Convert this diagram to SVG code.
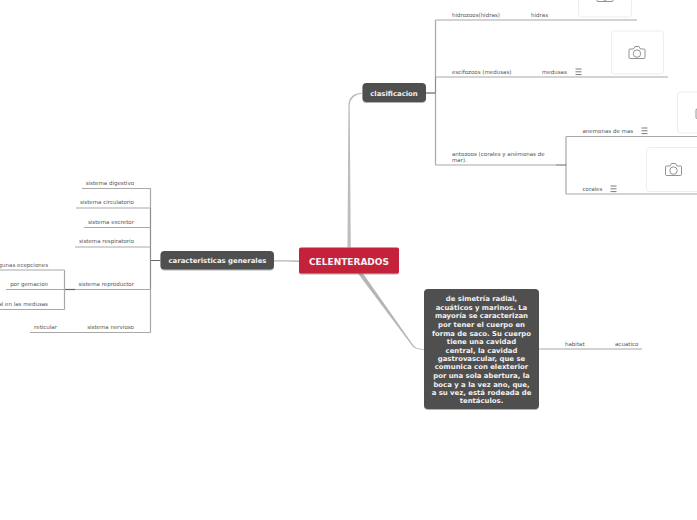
<svg xmlns="http://www.w3.org/2000/svg" width="697" height="520" viewBox="0 0 697 520">
<style>
text{font-family:"DejaVu Sans",Verdana,sans-serif}
.l{font-size:5.5px;fill:#555}
.e{text-anchor:end}
.t{font-size:6.9px;font-weight:bold;fill:#f2f2f2;text-anchor:middle}
.c{fill:none;stroke:#a8a8a8;stroke-width:1.2}
.g{fill:none;stroke:#8c8c8c;stroke-width:1.2}
.d{fill:none;stroke:#666;stroke-width:1.2}
.b{fill:#4f4f4f;filter:url(#s)}
.cb{fill:#fff;stroke:#eee;stroke-width:1}
.i{fill:none;stroke:#777;stroke-width:.8}
.m{stroke:#444;stroke-width:.7}
</style>
<defs>
<filter id="s" x="-10%" y="-10%" width="120%" height="130%"><feDropShadow dx="0" dy="1" stdDeviation=".7" flood-color="#000" flood-opacity=".3"/></filter>
<g id="cam" class="i"><path d="M-7 -4H-3.500L-2 -6.500H2L3.500 -4H7Q8 -4 8 -3V4.500Q8 5.500 7 5.500H-7Q-8 5.500 -8 4.500V-3Q-8 -4 -7 -4Z"/><circle cx="0" cy=".6" r="3.700"/></g>
<g id="menu" class="m"><path d="M0 0H6M0 2.800H6M0 5.600H6"/></g>
</defs>
<g id="connectors">
<path d="M347.500 247.500L348.400 105Q348.700 94 361 92.800L362.500 93.400Q350.400 95 349.700 105L350.800 247.500Z" fill="#bdbdbd"/>
<path d="M274 260.300H287L299 260.500V262L287 261.500H274Z" fill="#b5b5b5"/>
<path d="M358 273.500L363 273.500L413.500 345.500Q416 349 424 349V349.700Q415 349.800 412.500 346.300Z" fill="#b5b5b5"/>
<path class="c" d="M435.500 20V77M435.500 93V165"/>
<path class="d" d="M426 93H435.500"/>
<path class="g" d="M435.500 77V93"/>
<path class="c" d="M435.500 20H637M435.500 77H668M435.500 165H556M566 136.500V194M566 136.500H697M566 194H697"/>
<path class="d" d="M556 165H566M160.500 260.500H150.500"/>
<path class="g" d="M150.500 208V289.500"/>
<path class="c" d="M150.500 188V208M150.500 289.500V332.500M150.500 188.500H82M150.500 208H76M150.500 227.500H84M150.500 247H75M150.500 289.500H75M150.500 332.500H30"/>
<path class="d" d="M75 289.500H64.500"/>
<path class="c" d="M64.500 270V309.500M64.500 270H0M64.500 289.500H6M64.500 309.500H0M539 349H642"/>
</g>
<g id="celenterados"><rect x="299" y="247.500" width="100" height="26" rx="2" fill="#c4203a" filter="url(#s)"/><text x="349" y="264.500" font-size="9" font-weight="bold" fill="#f2f2f2" text-anchor="middle">CELENTERADOS</text></g>
<g id="clasificacion"><rect class="b" x="362.500" y="83" width="63.500" height="19" rx="4"/><text class="t" x="394" y="95.500">clasificacion</text></g>
<g id="caracteristicas"><rect class="b" x="160.500" y="251" width="113.500" height="18.500" rx="4"/><text class="t" x="217.500" y="263">caracteristicas generales</text></g>
<g id="descripcion"><rect class="b" x="424" y="289" width="115" height="120" rx="4"/>
<text class="t"><tspan x="481.500" y="301">de simetría radial,</tspan><tspan x="481.500" y="310">acuáticos y marinos. La</tspan><tspan x="481.500" y="318">mayoría se caracterizan</tspan><tspan x="481.500" y="327">por tener el cuerpo en</tspan><tspan x="481.500" y="335.500">forma de saco. Su cuerpo</tspan><tspan x="481.500" y="344">tiene una cavidad</tspan><tspan x="481.500" y="352.500">central, la cavidad</tspan><tspan x="481.500" y="361">gastrovascular, que se</tspan><tspan x="481.500" y="369">comunica con elexterior</tspan><tspan x="481.500" y="378">por una sola abertura, la</tspan><tspan x="481.500" y="386.500">boca y a la vez ano, que,</tspan><tspan x="481.500" y="395">a su vez, está rodeada de</tspan><tspan x="481.500" y="403">tentáculos.</tspan></text></g>
<g id="hidrozoos"><text class="l" x="452" y="17">hidrozoos(hidras)</text></g>
<g id="hidras"><text class="l" x="531" y="17">hidras</text><rect class="cb" x="578.500" y="-20" width="53" height="37" rx="3"/><use href="#cam" x="605" y="-4"/></g>
<g id="escifozoos"><text class="l" x="452" y="74">escifozoos (medusas)</text></g>
<g id="medusas"><text class="l" x="542" y="74">medusas</text><use href="#menu" x="575.500" y="69"/><rect class="cb" x="611.500" y="31" width="52" height="43" rx="3"/><use href="#cam" x="637" y="53"/></g>
<g id="antozoos"><text class="l"><tspan x="452" y="156">antozoos (corales y anémonas de</tspan><tspan x="452" y="162">mar).</tspan></text></g>
<g id="anemonas"><text class="l" x="582.500" y="133">anemonas de mas</text><use href="#menu" x="641.500" y="128"/><rect class="cb" x="677.500" y="92" width="40" height="41" rx="3"/><use href="#cam" x="704" y="113"/></g>
<g id="corales"><text class="l" x="582.500" y="191">corales</text><use href="#menu" x="610.500" y="186"/><rect class="cb" x="646.500" y="147.500" width="60" height="44" rx="3"/><use href="#cam" x="673.500" y="170"/></g>
<g id="digestivo"><text class="l e" x="134" y="185">sistema digestivo</text></g>
<g id="circulatorio"><text class="l e" x="134" y="204">sistema circulatorio</text></g>
<g id="excretor"><text class="l e" x="134" y="224">sistema excretor</text></g>
<g id="respiratorio"><text class="l e" x="134" y="243">sistema respiratorio</text></g>
<g id="reproductor"><text class="l e" x="134" y="286">sistema reproductor</text></g>
<g id="nervioso"><text class="l e" x="134" y="329">sistema nervioso</text></g>
<g id="ecepciones"><text class="l e" x="48" y="267">algunas ecepciones</text></g>
<g id="gemacion"><text class="l e" x="48" y="286">por gemacion</text></g>
<g id="sexual"><text class="l e" x="48" y="306">sexual en las medusas</text></g>
<g id="reticular"><text class="l e" x="57" y="329">reticular</text></g>
<g id="habitat"><text class="l" x="565" y="346">habitat</text></g>
<g id="acuatico"><text class="l" x="615" y="346">acuatico</text></g>
</svg>
